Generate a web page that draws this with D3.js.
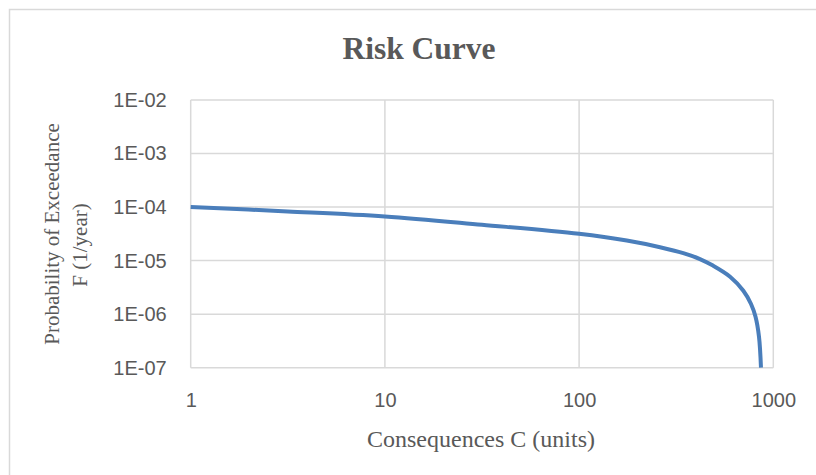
<!DOCTYPE html>
<html>
<head>
<meta charset="utf-8">
<script src="https://cdn.jsdelivr.net/npm/d3@7"></script>
<style>
  body { margin: 0; background: #fff; }
  text { fill: #595959; }
</style>
</head>
<body>
<script>
// data
const consequences = [1, 3.16, 10, 31.6, 100, 176, 261, 344, 419, 489, 599, 701, 768, 810, 844, 864];
const exceedance = [1e-4, 8.3e-5, 6.68e-5, 4.68e-5, 3.17e-5, 2.37e-5, 1.78e-5, 1.38e-5, 1.07e-5, 8.07e-6, 5.01e-6, 2.74e-6, 1.55e-6, 8.9e-7, 3.77e-7, 1e-7];
const xTicks = [1, 10, 100, 1000];
const yTicks = [1e-7, 1e-6, 1e-5, 1e-4, 1e-3, 1e-2];

const W = 816, H = 475;
// set the dimensions and margins of the graph
const margin = {top: 100, right: 42.7, bottom: 107.3, left: 190.7},
    width = W - margin.left - margin.right,
    height = H - margin.top - margin.bottom;

const root = d3.select("body")
    .append("svg")
    .attr("width", W)
    .attr("height", H);

// chart area border
root.append("rect")
    .attr("x", 9.5).attr("y", 9.5)
    .attr("width", 820).attr("height", 480)
    .attr("fill", "none")
    .attr("stroke", "#d9d9d9")
    .attr("stroke-width", 1.5);

const svg = root.append("g")
    .attr("transform", "translate(" + margin.left + "," + margin.top + ")");

const x = d3.scaleLog().domain([1, 1000]).range([0, width]);
const y = d3.scaleLog().domain([1e-7, 1e-2]).range([height, 0]);

// gridlines
svg.append("g")
    .selectAll("line.v")
    .data(xTicks)
    .enter().append("line")
        .attr("x1", d => x(d)).attr("x2", d => x(d))
        .attr("y1", 0).attr("y2", height)
        .attr("stroke", "#d9d9d9").attr("stroke-width", 1.5);

svg.append("g")
    .selectAll("line.h")
    .data(yTicks)
    .enter().append("line")
        .attr("x1", 0).attr("x2", width)
        .attr("y1", d => y(d)).attr("y2", d => y(d))
        .attr("stroke", "#d9d9d9").attr("stroke-width", 1.5);

// x-axis labels
const xAxis = svg.append("g")
    .attr("transform", "translate(0," + height + ")")
    .call(d3.axisBottom(x).tickValues(xTicks).tickFormat(d3.format("d")).tickSize(0).tickPadding(25));
xAxis.select(".domain").remove();
xAxis.selectAll("text")
    .style("font-family", "'Liberation Sans', Arial, sans-serif")
    .style("font-size", "20px")
    .attr("fill", "#595959");

// y-axis labels
const fmtE = d => "1E-" + String(Math.round(-Math.log10(d))).padStart(2, "0");
const yAxis = svg.append("g")
    .call(d3.axisLeft(y).tickValues(yTicks).tickFormat(fmtE).tickSize(0).tickPadding(24));
yAxis.select(".domain").remove();
yAxis.selectAll("text")
    .style("font-family", "'Liberation Sans', Arial, sans-serif")
    .style("font-size", "20px")
    .attr("fill", "#595959");

// the risk curve
const pts = consequences.map((c, i) => [c, exceedance[i]]);
svg.append("path")
    .datum(pts)
    .attr("fill", "none")
    .attr("stroke", "#4a7ebb")
    .attr("stroke-width", 4)
    .attr("d", d3.line()
        .x(d => x(d[0]))
        .y(d => y(d[1]))
        .curve(d3.curveCatmullRom.alpha(0.5)));

// titles
root.append("text")
    .attr("x", 419).attr("y", 59)
    .attr("text-anchor", "middle")
    .style("font-family", "'Liberation Serif', 'Times New Roman', serif")
    .style("font-weight", "bold")
    .style("font-size", "31.5px")
    .text("Risk Curve");

root.append("text")
    .attr("x", 481).attr("y", 447)
    .attr("text-anchor", "middle")
    .style("font-family", "'Liberation Serif', 'Times New Roman', serif")
    .style("font-size", "24px")
    .text("Consequences C (units)");

const yt = root.append("text")
    .attr("transform", "translate(58.5,234) rotate(-90)")
    .attr("text-anchor", "middle")
    .style("font-family", "'Liberation Serif', 'Times New Roman', serif")
    .style("font-size", "21px");
yt.append("tspan").attr("x", 0).attr("dy", 0).text("Probability of Exceedance");
yt.append("tspan").attr("x", -11).attr("dy", 28.5).text("F (1/year)");
</script>
</body>
</html>
